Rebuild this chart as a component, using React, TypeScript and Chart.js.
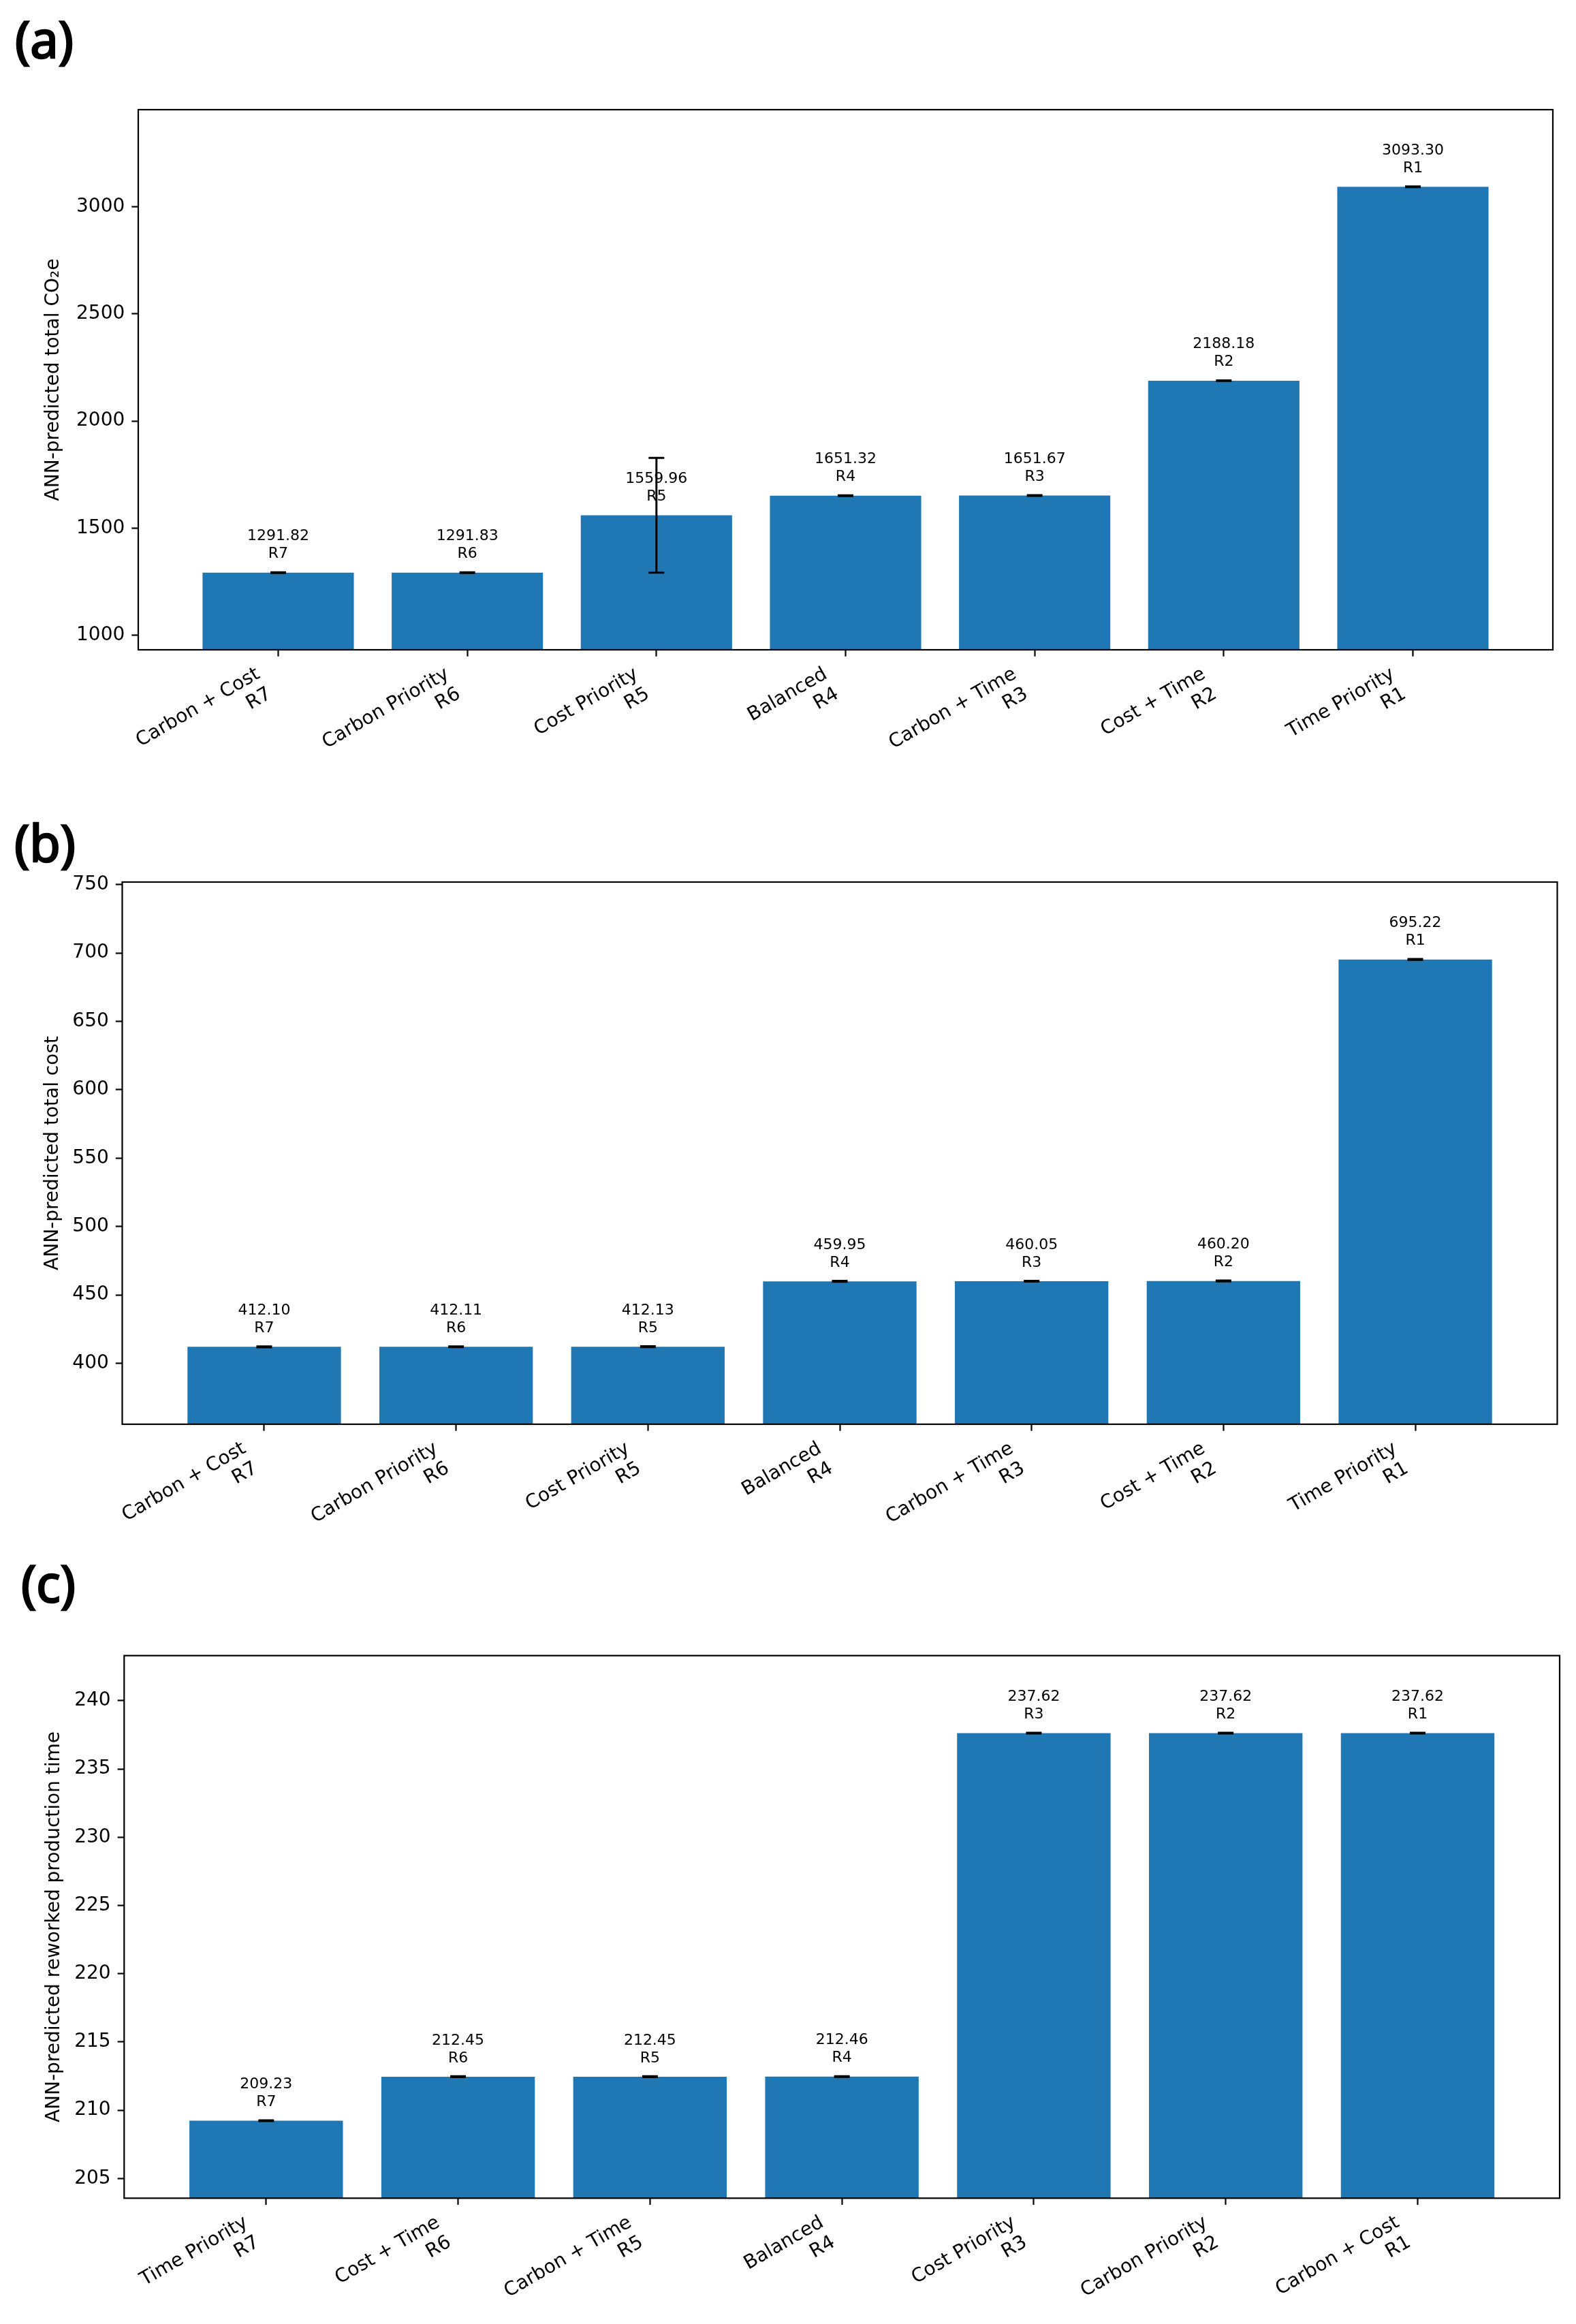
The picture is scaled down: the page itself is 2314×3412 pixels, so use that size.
import React, { useRef, useEffect } from 'react';
import { Chart, registerables } from 'chart.js';

Chart.register(...registerables);

Chart.defaults.font.family = "'DejaVu Sans', sans-serif";
Chart.defaults.color = '#000';

// (a) total CO2e
const co2Labels = ['Carbon + Cost', 'Carbon Priority', 'Cost Priority', 'Balanced', 'Carbon + Time', 'Cost + Time', 'Time Priority'];
const co2Ranks = ['R7', 'R6', 'R5', 'R4', 'R3', 'R2', 'R1'];
const co2Values = [1291.82, 1291.83, 1559.96, 1651.32, 1651.67, 2188.18, 3093.3];
const co2Errors = [1.5, 1.5, 268, 1.5, 1.5, 1.5, 1.5];
const co2Ticks = [1000, 1500, 2000, 2500, 3000];

// (b) total cost
const costLabels = ['Carbon + Cost', 'Carbon Priority', 'Cost Priority', 'Balanced', 'Carbon + Time', 'Cost + Time', 'Time Priority'];
const costRanks = ['R7', 'R6', 'R5', 'R4', 'R3', 'R2', 'R1'];
const costValues = [412.1, 412.11, 412.13, 459.95, 460.05, 460.2, 695.22];
const costErrors = [0.3, 0.3, 0.3, 0.3, 0.3, 0.3, 0.3];
const costTicks = [400, 450, 500, 550, 600, 650, 700, 750];

// (c) reworked production time
const timeLabels = ['Time Priority', 'Cost + Time', 'Carbon + Time', 'Balanced', 'Cost Priority', 'Carbon Priority', 'Carbon + Cost'];
const timeRanks = ['R7', 'R6', 'R5', 'R4', 'R3', 'R2', 'R1'];
const timeValues = [209.23, 212.45, 212.45, 212.46, 237.62, 237.62, 237.62];
const timeErrors = [0.03, 0.03, 0.03, 0.03, 0.03, 0.03, 0.03];
const timeTicks = [205, 210, 215, 220, 225, 230, 235, 240];

const BAR_COLOR = '#1f77b4';
const TICK_FONT = 28;
const ANNOT_FONT = 22;
const SPINE = 2.2;
const TICK_LEN = 9.7;

interface PanelProps {
  labels: string[];
  ranks: string[];
  values: number[];
  errors: number[];
  yTicks: number[];
  yTitle: string;
  top: number;
  height: number;
  padTop: number;
  yWidth: number;
  padRight: number;
  xHeight: number;
  titleCenter: number;
}

const BarPanel: React.FC<PanelProps> = (p) => {
  const canvasRef = useRef<HTMLCanvasElement | null>(null);

  useEffect(() => {
    if (!canvasRef.current) return;
    const ctx = canvasRef.current.getContext('2d');
    if (!ctx) return;

    const lo = Math.min(...p.values);
    const hi = Math.max(...p.values);
    const range = hi - lo;
    const n = p.values.length;

    const overlay = {
      id: 'overlay',
      afterDatasetsDraw(chart: Chart) {
        const c = chart.ctx;
        const xs = chart.scales.x;
        const ys = chart.scales.y;
        const area = chart.chartArea;
        c.save();
        // error bars
        c.strokeStyle = '#000';
        c.lineWidth = 3;
        p.values.forEach((v, i) => {
          const px = xs.getPixelForValue(i);
          const t = ys.getPixelForValue(v + p.errors[i]);
          const b = ys.getPixelForValue(v - p.errors[i]);
          c.beginPath();
          c.moveTo(px, t);
          c.lineTo(px, b);
          c.moveTo(px - 11.5, t);
          c.lineTo(px + 11.5, t);
          c.moveTo(px - 11.5, b);
          c.lineTo(px + 11.5, b);
          c.stroke();
        });
        // value + rank labels
        c.fillStyle = '#000';
        c.font = `${ANNOT_FONT}px 'DejaVu Sans'`;
        c.textAlign = 'center';
        c.textBaseline = 'alphabetic';
        p.values.forEach((v, i) => {
          const px = xs.getPixelForValue(i);
          const py = ys.getPixelForValue(v);
          c.fillText(p.ranks[i], px, py - 21.4);
          c.fillText(v.toFixed(2), px, py - 47.4);
        });
        // frame
        c.lineWidth = SPINE;
        c.strokeRect(area.left, area.top, area.right - area.left, area.bottom - area.top);
        c.restore();
      },
    };

    const chart = new Chart(ctx, {
      type: 'bar',
      data: {
        datasets: [
          {
            data: p.values.map((v, i) => ({ x: i, y: v })),
            backgroundColor: BAR_COLOR,
            borderWidth: 0,
            barPercentage: 0.8,
            categoryPercentage: 1,
          },
        ],
      },
      options: {
        responsive: true,
        maintainAspectRatio: false,
        animation: false,
        layout: { padding: { top: p.padTop, right: p.padRight, left: 0, bottom: 0 } },
        plugins: { legend: { display: false }, tooltip: { enabled: false } },
        scales: {
          x: {
            type: 'linear',
            offset: false,
            min: -0.4 - 0.05 * (n - 1 + 0.8),
            max: n - 1 + 0.4 + 0.05 * (n - 1 + 0.8),
            grid: { drawOnChartArea: false, drawTicks: true, tickLength: TICK_LEN, tickColor: '#000', tickWidth: SPINE, offset: false },
            border: { display: false },
            afterBuildTicks: (s: any) => {
              s.ticks = p.values.map((_, i) => ({ value: i }));
            },
            afterFit: (s: any) => {
              s.height = p.xHeight;
              s.paddingLeft = 0;
              s.paddingRight = 0;
            },
            ticks: {
              autoSkip: false,
              minRotation: 30,
              maxRotation: 30,
              padding: 9.7,
              labelOffset: -29,
              color: '#000',
              font: { size: TICK_FONT, lineHeight: 1.2 },
              callback: (v: any) => [p.labels[v], p.ranks[v]],
            },
          },
          y: {
            type: 'linear',
            beginAtZero: false,
            min: lo - 0.2 * range,
            max: hi + 0.2 * range,
            grid: { drawOnChartArea: false, drawTicks: true, tickLength: TICK_LEN, tickColor: '#000', tickWidth: SPINE },
            border: { display: false },
            afterBuildTicks: (s: any) => {
              s.ticks = p.yTicks.map((v) => ({ value: v }));
            },
            afterFit: (s: any) => {
              s.width = p.yWidth;
              s.paddingTop = 0;
              s.paddingBottom = 0;
            },
            ticks: {
              padding: 10,
              color: '#000',
              font: { size: TICK_FONT },
              callback: (v: any) => String(v),
            },
            title: {
              display: true,
              text: p.yTitle,
              color: '#000',
              font: { size: TICK_FONT, lineHeight: 1.2 },
              padding: { top: p.titleCenter - TICK_FONT * 0.6, bottom: 0 },
            },
          },
        },
      },
      plugins: [overlay],
    } as any);

    return () => {
      chart.destroy();
    };
  }, [p]);

  return (
    <div style={{ position: 'absolute', left: 0, top: p.top, width: 2314, height: p.height }}>
      <canvas ref={canvasRef} />
    </div>
  );
};

const tagStyle: React.CSSProperties = {
  position: 'absolute',
  fontFamily: "'Noto Sans', sans-serif",
  fontWeight: 400,
  fontSize: 74,
  lineHeight: '74px',
  color: '#000',
  WebkitTextStroke: '2.5px #000',
};

const App: React.FC = () => {
  return (
    <div style={{ position: 'absolute', left: 0, top: 0, width: 2314, height: 3412, background: '#fff', overflow: 'hidden' }}>
      <BarPanel
        labels={co2Labels}
        ranks={co2Ranks}
        values={co2Values}
        errors={co2Errors}
        yTicks={co2Ticks}
        yTitle="ANN-predicted total CO₂e"
        top={0}
        height={1150}
        padTop={161}
        yWidth={203}
        padRight={34}
        xHeight={196}
        titleCenter={79}
      />
      <BarPanel
        labels={costLabels}
        ranks={costRanks}
        values={costValues}
        errors={costErrors}
        yTicks={costTicks}
        yTitle="ANN-predicted total cost"
        top={1150}
        height={1150}
        padTop={145}
        yWidth={179.5}
        padRight={27.5}
        xHeight={209}
        titleCenter={77.5}
      />
      <BarPanel
        labels={timeLabels}
        ranks={timeRanks}
        values={timeValues}
        errors={timeErrors}
        yTicks={timeTicks}
        yTitle="ANN-predicted reworked production time"
        top={2300}
        height={1112}
        padTop={130.7}
        yWidth={182.3}
        padRight={24}
        xHeight={184.7}
        titleCenter={80}
      />
      <div style={{ ...tagStyle, left: 22, top: 20 }}>(a)</div>
      <div style={{ ...tagStyle, left: 21, top: 1200 }}>(b)</div>
      <div style={{ ...tagStyle, left: 31, top: 2287 }}>(c)</div>
    </div>
  );
};

export default App;
